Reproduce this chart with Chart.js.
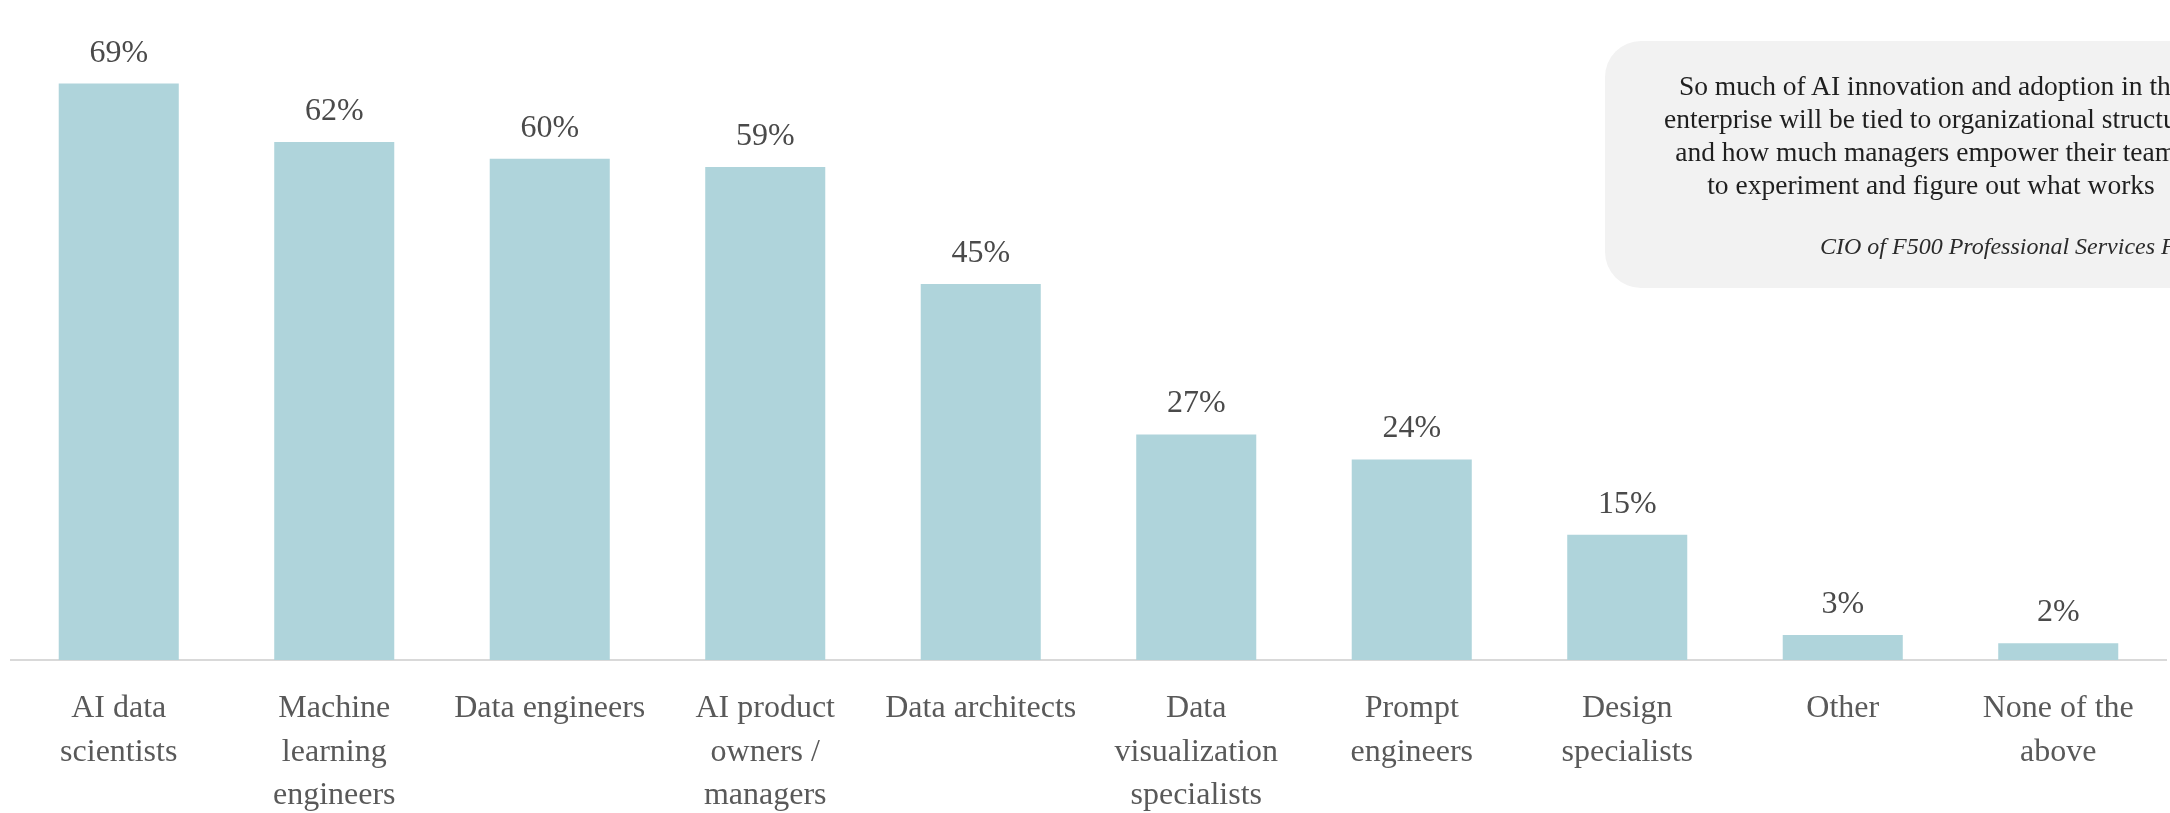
<!DOCTYPE html>
<html>
<head>
<meta charset="utf-8">
<script src="https://cdn.jsdelivr.net/npm/chart.js"></script>
<style>
    html, body { margin: 0; padding: 0; background: #fff; overflow: hidden; }
    #wrap { position: relative; width: 2170px; height: 813px; }
    .quote-box {
        position: absolute;
        left: 1605px;
        top: 41px;
        width: 800px;
        height: 247px;
        border-radius: 36px;
        background: #f2f2f2;
    }
    .quote-text {
        position: absolute;
        left: 0;
        top: 28px;
        width: 652px;
        text-align: center;
        font-family: 'Liberation Serif', serif;
        font-size: 27.5px;
        line-height: 33px;
        color: #1f1f1f;
        white-space: nowrap;
    }
    .quote-by {
        position: absolute;
        left: 215px;
        top: 189px;
        font-family: 'Liberation Serif', serif;
        font-style: italic;
        font-size: 24px;
        line-height: 33px;
        color: #2b2b2b;
        white-space: nowrap;
    }
</style>
</head>
<body>
<div id="wrap">
    <canvas id="myChart" width="2170" height="813"></canvas>
    <div class="quote-box">
        <div class="quote-text">So much of AI innovation and adoption in the<br>enterprise will be tied to organizational structure<br>and how much managers empower their teams<br>to experiment and figure out what works</div>
        <div class="quote-by">CIO of F500 Professional Services Firm</div>
    </div>
</div>
<script>
const categories = [
    ['AI data', 'scientists'],
    ['Machine', 'learning', 'engineers'],
    ['Data engineers'],
    ['AI product', 'owners /', 'managers'],
    ['Data architects'],
    ['Data', 'visualization', 'specialists'],
    ['Prompt', 'engineers'],
    ['Design', 'specialists'],
    ['Other'],
    ['None of the', 'above']
];
const shares = [69, 62, 60, 59, 45, 27, 24, 15, 3, 2];

const barColor = '#afd4db';
const fontFamily = "'Liberation Serif', serif";

// percent labels above each bar
const valueLabels = {
    id: 'valueLabels',
    afterDatasetsDraw(chart) {
        const ctx = chart.ctx;
        const meta = chart.getDatasetMeta(0);
        ctx.save();
        ctx.font = '32px ' + fontFamily;
        ctx.fillStyle = '#4a4a4a';
        ctx.textAlign = 'center';
        ctx.textBaseline = 'alphabetic';
        meta.data.forEach((bar, i) => {
            ctx.fillText(shares[i] + '%', bar.x, bar.y - 22);
        });
        ctx.restore();
    }
};

const ctx = document.getElementById('myChart').getContext('2d');
const myChart = new Chart(ctx, {
    type: 'bar',
    data: {
        labels: categories,
        datasets: [{
            label: '',
            data: shares,
            backgroundColor: barColor,
            borderWidth: 0,
            categoryPercentage: 1,
            barPercentage: 0.557
        }]
    },
    options: {
        responsive: false,
        animation: false,
        layout: {
            padding: { left: 11, right: 4, top: 0, bottom: 0 }
        },
        plugins: {
            legend: { display: false },
            tooltip: { enabled: false }
        },
        scales: {
            x: {
                grid: { display: false, drawTicks: false },
                border: { display: true, color: '#d9d9d9', width: 2 },
                ticks: {
                    color: '#595959',
                    padding: 27,
                    maxRotation: 0,
                    autoSkip: false,
                    font: { family: fontFamily, size: 32, lineHeight: 43.5 / 32 }
                },
                // fixed band for the three-line labels
                afterFit(scale) {
                    scale.height = 153;
                }
            },
            y: {
                display: false,
                min: 0,
                max: 79
            }
        }
    },
    plugins: [valueLabels]
});
</script>
</body>
</html>
